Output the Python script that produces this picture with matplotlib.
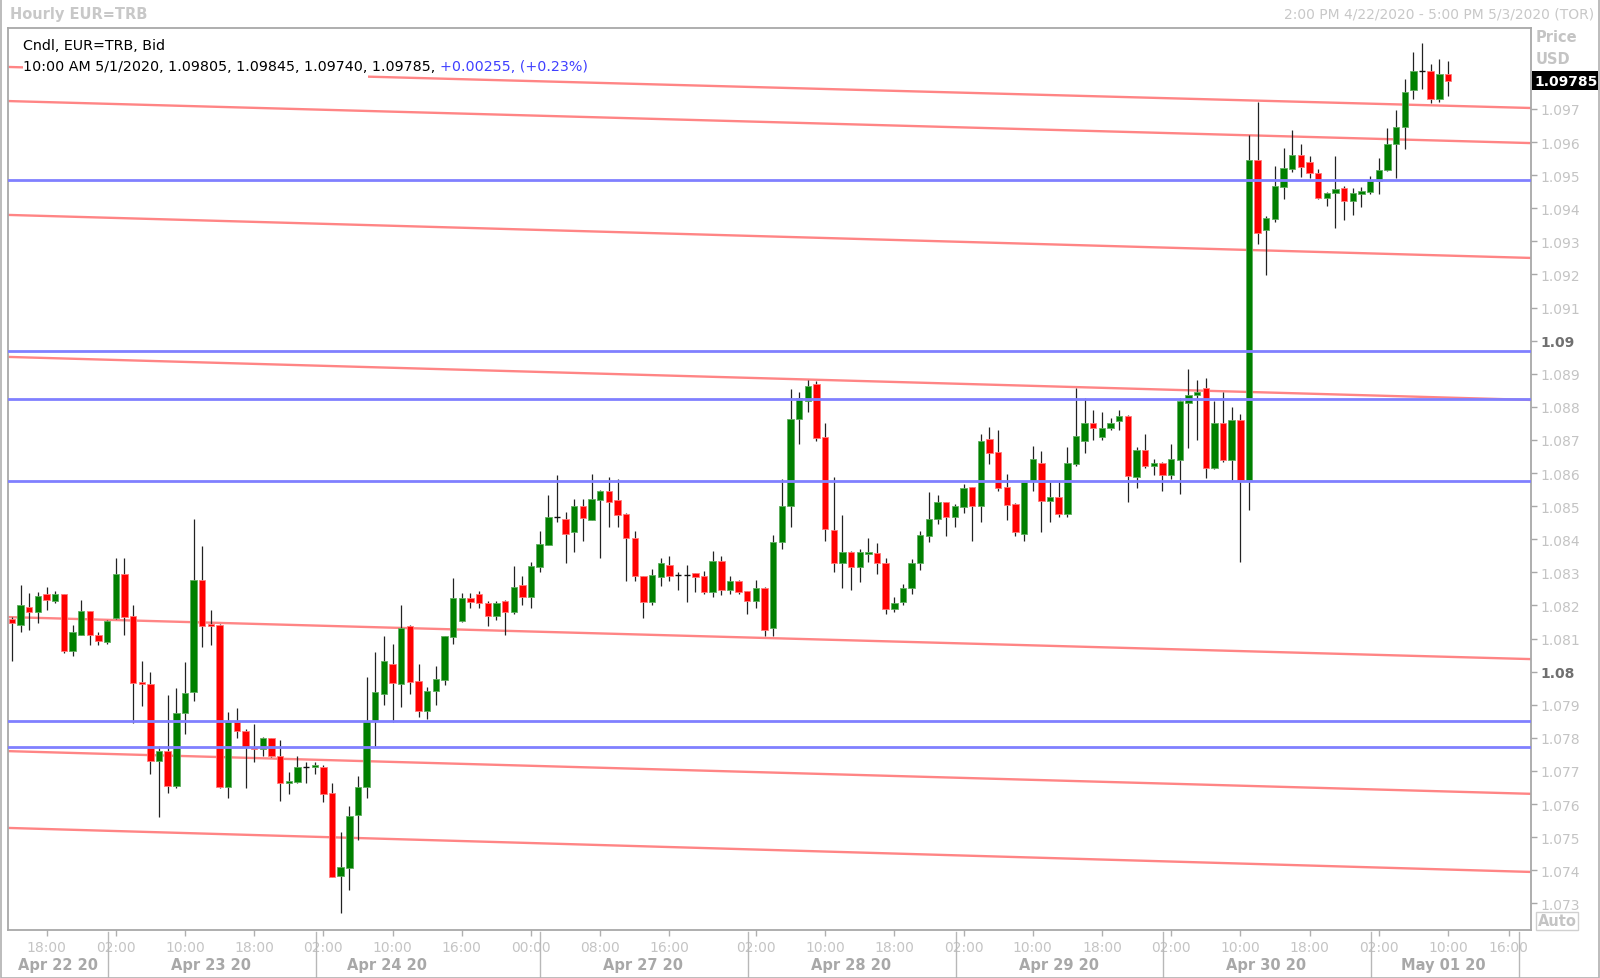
import matplotlib
matplotlib.use("Agg")
import matplotlib.pyplot as plt
from matplotlib.patches import Rectangle
from matplotlib.transforms import blended_transform_factory

# ---------------- data (hourly candles, EUR=TRB, Bid) ----------------
opens = [
    1.08160, 1.08142, 1.08194, 1.08181, 1.08234, 1.08215, 1.08234, 1.08062, 1.08112, 1.08182,
    1.08112, 1.08091, 1.08162, 1.08296, 1.08167, 1.07968, 1.07964, 1.07731, 1.07759, 1.07655,
    1.07874, 1.07940, 1.08276, 1.08144, 1.08142, 1.07651, 1.07849, 1.07822, 1.07772, 1.07767,
    1.07799, 1.07744, 1.07663, 1.07668, 1.07712, 1.07711, 1.07713, 1.07633, 1.07384, 1.07406,
    1.07567, 1.07651, 1.07852, 1.07933, 1.08023, 1.07962, 1.08139, 1.07971, 1.07882, 1.07941,
    1.07976, 1.08106, 1.08152, 1.08222, 1.08234, 1.08208, 1.08167, 1.08213, 1.08179, 1.08263,
    1.08227, 1.08315, 1.08384, 1.08466, 1.08461, 1.08421, 1.08502, 1.08459, 1.08520, 1.08547,
    1.08519, 1.08475, 1.08404, 1.08288, 1.08212, 1.08287, 1.08323, 1.08292, 1.08292, 1.08297,
    1.08288, 1.08240, 1.08333, 1.08247, 1.08275, 1.08243, 1.08215, 1.08254, 1.08131, 1.08391,
    1.08502, 1.08762, 1.08819, 1.08868, 1.08709, 1.08427, 1.08328, 1.08363, 1.08316, 1.08356,
    1.08358, 1.08329, 1.08190, 1.08212, 1.08253, 1.08328, 1.08411, 1.08462, 1.08512, 1.08467,
    1.08499, 1.08557, 1.08502, 1.08704, 1.08663, 1.08557, 1.08507, 1.08416, 1.08577, 1.08631,
    1.08517, 1.08527, 1.08477, 1.08626, 1.08696, 1.08751, 1.08710, 1.08736, 1.08756, 1.08772,
    1.08587, 1.08671, 1.08621, 1.08631, 1.08595, 1.08641, 1.08812, 1.08837, 1.08857, 1.08615,
    1.08751, 1.08640, 1.08760, 1.08580, 1.09546, 1.09335, 1.09368, 1.09464, 1.09519, 1.09561,
    1.09541, 1.09506, 1.09431, 1.09446, 1.09462, 1.09421, 1.09442, 1.09449, 1.09481, 1.09516,
    1.09593, 1.09645, 1.09756, 1.09816, 1.09816, 1.09730, 1.09805,
]
highs = [
    1.08165, 1.08263, 1.08237, 1.08240, 1.08255, 1.08243, 1.08236, 1.08141, 1.08216, 1.08184,
    1.08119, 1.08156, 1.08343, 1.08343, 1.08200, 1.08031, 1.07998, 1.07775, 1.07929, 1.07952,
    1.08029, 1.08460, 1.08379, 1.08187, 1.08144, 1.07877, 1.07890, 1.07827, 1.07842, 1.07802,
    1.07801, 1.07794, 1.07698, 1.07744, 1.07726, 1.07728, 1.07718, 1.07663, 1.07515, 1.07595,
    1.07686, 1.07985, 1.08059, 1.08107, 1.08084, 1.08200, 1.08142, 1.08023, 1.07953, 1.08018,
    1.08109, 1.08283, 1.08237, 1.08237, 1.08243, 1.08213, 1.08213, 1.08217, 1.08318, 1.08290,
    1.08330, 1.08426, 1.08534, 1.08594, 1.08481, 1.08522, 1.08522, 1.08598, 1.08549, 1.08587,
    1.08582, 1.08480, 1.08426, 1.08290, 1.08311, 1.08343, 1.08349, 1.08301, 1.08323, 1.08299,
    1.08303, 1.08364, 1.08349, 1.08288, 1.08278, 1.08245, 1.08278, 1.08257, 1.08413, 1.08582,
    1.08854, 1.08844, 1.08880, 1.08878, 1.08752, 1.08588, 1.08474, 1.08365, 1.08371, 1.08403,
    1.08388, 1.08343, 1.08227, 1.08265, 1.08341, 1.08424, 1.08542, 1.08534, 1.08514, 1.08507,
    1.08568, 1.08559, 1.08719, 1.08739, 1.08729, 1.08597, 1.08509, 1.08574, 1.08683, 1.08668,
    1.08572, 1.08572, 1.08678, 1.08856, 1.08826, 1.08792, 1.08786, 1.08766, 1.08792, 1.08774,
    1.08678, 1.08718, 1.08643, 1.08633, 1.08688, 1.08826, 1.08913, 1.08881, 1.08886, 1.08817,
    1.08844, 1.08800, 1.08780, 1.09620, 1.09722, 1.09376, 1.09527, 1.09582, 1.09638, 1.09593,
    1.09559, 1.09519, 1.09449, 1.09559, 1.09467, 1.09462, 1.09464, 1.09499, 1.09552, 1.09643,
    1.09697, 1.09791, 1.09872, 1.09900, 1.09836, 1.09850, 1.09845,
]
lows = [
    1.08033, 1.08120, 1.08127, 1.08146, 1.08187, 1.08207, 1.08057, 1.08046, 1.08110, 1.08082,
    1.08081, 1.08085, 1.08160, 1.08112, 1.07846, 1.07895, 1.07691, 1.07562, 1.07635, 1.07650,
    1.07811, 1.07912, 1.08076, 1.08082, 1.07648, 1.07618, 1.07799, 1.07648, 1.07726, 1.07746,
    1.07741, 1.07610, 1.07631, 1.07663, 1.07663, 1.07691, 1.07607, 1.07379, 1.07270, 1.07339,
    1.07492, 1.07618, 1.07772, 1.07900, 1.07847, 1.07893, 1.07933, 1.07862, 1.07857, 1.07900,
    1.07961, 1.08084, 1.08150, 1.08191, 1.08191, 1.08137, 1.08157, 1.08112, 1.08174, 1.08200,
    1.08191, 1.08300, 1.08382, 1.08451, 1.08327, 1.08361, 1.08396, 1.08457, 1.08343, 1.08436,
    1.08436, 1.08275, 1.08275, 1.08162, 1.08200, 1.08260, 1.08275, 1.08247, 1.08212, 1.08240,
    1.08235, 1.08227, 1.08232, 1.08235, 1.08235, 1.08173, 1.08192, 1.08109, 1.08109, 1.08371,
    1.08436, 1.08688, 1.08784, 1.08696, 1.08396, 1.08301, 1.08252, 1.08247, 1.08272, 1.08331,
    1.08296, 1.08175, 1.08180, 1.08200, 1.08235, 1.08308, 1.08391, 1.08445, 1.08411, 1.08437,
    1.08479, 1.08396, 1.08452, 1.08626, 1.08545, 1.08459, 1.08411, 1.08396, 1.08545, 1.08421,
    1.08451, 1.08467, 1.08467, 1.08621, 1.08661, 1.08701, 1.08701, 1.08731, 1.08731, 1.08512,
    1.08554, 1.08615, 1.08595, 1.08545, 1.08582, 1.08537, 1.08676, 1.08701, 1.08585, 1.08613,
    1.08635, 1.08580, 1.08330, 1.08490, 1.09292, 1.09199, 1.09360, 1.09428, 1.09511, 1.09496,
    1.09491, 1.09428, 1.09408, 1.09340, 1.09366, 1.09381, 1.09403, 1.09444, 1.09442, 1.09514,
    1.09492, 1.09579, 1.09729, 1.09761, 1.09718, 1.09720, 1.09740,
]
closes = [
    1.08147, 1.08200, 1.08181, 1.08228, 1.08216, 1.08234, 1.08062, 1.08119, 1.08182, 1.08112,
    1.08092, 1.08154, 1.08296, 1.08164, 1.07967, 1.07962, 1.07731, 1.07759, 1.07655, 1.07876,
    1.07937, 1.08276, 1.08137, 1.08137, 1.07651, 1.07849, 1.07821, 1.07772, 1.07767, 1.07799,
    1.07744, 1.07663, 1.07669, 1.07712, 1.07712, 1.07718, 1.07631, 1.07381, 1.07409, 1.07565,
    1.07653, 1.07852, 1.07938, 1.08032, 1.07966, 1.08132, 1.07968, 1.07882, 1.07943, 1.07978,
    1.08107, 1.08222, 1.08222, 1.08212, 1.08207, 1.08167, 1.08208, 1.08181, 1.08257, 1.08227,
    1.08318, 1.08386, 1.08466, 1.08466, 1.08416, 1.08502, 1.08464, 1.08522, 1.08547, 1.08512,
    1.08472, 1.08404, 1.08288, 1.08212, 1.08292, 1.08329, 1.08290, 1.08292, 1.08292, 1.08287,
    1.08240, 1.08333, 1.08247, 1.08275, 1.08242, 1.08215, 1.08254, 1.08126, 1.08393, 1.08502,
    1.08764, 1.08826, 1.08862, 1.08707, 1.08432, 1.08328, 1.08363, 1.08316, 1.08363, 1.08363,
    1.08328, 1.08190, 1.08207, 1.08253, 1.08329, 1.08413, 1.08462, 1.08512, 1.08467, 1.08500,
    1.08554, 1.08502, 1.08698, 1.08661, 1.08555, 1.08505, 1.08421, 1.08572, 1.08643, 1.08517,
    1.08527, 1.08477, 1.08631, 1.08711, 1.08751, 1.08736, 1.08736, 1.08751, 1.08772, 1.08592,
    1.08671, 1.08621, 1.08631, 1.08595, 1.08643, 1.08817, 1.08837, 1.08846, 1.08615, 1.08751,
    1.08641, 1.08760, 1.08580, 1.09546, 1.09326, 1.09371, 1.09466, 1.09521, 1.09561, 1.09526,
    1.09506, 1.09431, 1.09446, 1.09459, 1.09421, 1.09446, 1.09452, 1.09482, 1.09517, 1.09595,
    1.09647, 1.09751, 1.09816, 1.09816, 1.09729, 1.09805, 1.09785,
]

time_tick_pos = [4, 12, 20, 28, 36, 44, 52, 60, 68, 76, 86, 94, 102, 110, 118,
                 126, 134, 142, 150, 158, 166, 173]
time_tick_labels = ["18:00", "02:00", "10:00", "18:00", "02:00", "10:00", "16:00",
                    "00:00", "08:00", "16:00", "02:00", "10:00", "18:00", "02:00",
                    "10:00", "18:00", "02:00", "10:00", "18:00", "02:00", "10:00", "16:00"]
date_label_pos = [5.3, 23.0, 43.4, 73.0, 97.0, 121.0, 145.0, 165.5]
date_labels = ["Apr 22 20", "Apr 23 20", "Apr 24 20", "Apr 27 20",
               "Apr 28 20", "Apr 29 20", "Apr 30 20", "May 01 20"]
day_separators = [11.1, 35.1, 61.0, 85.1, 109.1, 133.1, 157.1, 174.2]

price_ticks = [1.073, 1.074, 1.075, 1.076, 1.077, 1.078, 1.079, 1.080, 1.081, 1.082,
               1.083, 1.084, 1.085, 1.086, 1.087, 1.088, 1.089, 1.090, 1.091, 1.092,
               1.093, 1.094, 1.095, 1.096, 1.097]
price_tick_labels = ["1.073", "1.074", "1.075", "1.076", "1.077", "1.078", "1.079", "1.08",
                     "1.081", "1.082", "1.083", "1.084", "1.085", "1.086", "1.087", "1.088",
                     "1.089", "1.09", "1.091", "1.092", "1.093", "1.094", "1.095", "1.096", "1.097"]

blue_levels = [1.09485, 1.08970, 1.08825, 1.08575, 1.07850, 1.07772]
red_left = [1.09827, 1.09724, 1.09380, 1.08951, 1.08165, 1.07760, 1.07528]
red_right = [1.09703, 1.09597, 1.09250, 1.08821, 1.08038, 1.07631, 1.07395]

last_price = 1.09785
legend_line1 = "Cndl, EUR=TRB, Bid"
legend_line2a = "10:00 AM 5/1/2020, 1.09805, 1.09845, 1.09740, 1.09785, "
legend_line2b = "+0.00255, (+0.23%)"

# ---------------- figure ----------------
W, H = 1600, 979
fig = plt.figure(figsize=(16, 9.79), dpi=100)
fig.patch.set_facecolor("white")

def fx(px):
    return px / W

def fy(py):
    return 1 - py / H

ax_l, ax_r, ax_t, ax_b = 8, 1531, 29, 931
ax = fig.add_axes([fx(ax_l), fy(ax_b), (ax_r - ax_l) / W, (ax_b - ax_t) / H])
XMIN, XMAX = -0.46, 175.6
ax.set_xlim(XMIN, XMAX)
ax.set_ylim(1.072196, 1.099447)
ax.set_facecolor("white")

# red sloping trend lines
for yl, yr in zip(red_left, red_right):
    ax.plot([XMIN, XMAX], [yl, yr], color="#FF8585", lw=1.7, zorder=2,
            solid_capstyle="butt")

# candles
n = len(opens)
xs = list(range(n))
ax.vlines(xs, lows, highs, color="#222222", lw=0.9, zorder=3)
bw = 0.74
for i in range(n):
    o, c = opens[i], closes[i]
    if c > o:
        fc, ec = "#008000", "#5fae5f"
    elif c < o:
        fc, ec = "#FF0000", "#ff7a7a"
    else:
        ax.hlines(o, i - bw / 2, i + bw / 2, color="#111111", lw=1.0, zorder=4)
        continue
    lo = min(o, c)
    h = max(abs(c - o), 0.00003)
    ax.bar(i, h, bottom=lo, width=bw, color=fc, edgecolor=ec, linewidth=0.6, zorder=4)

# blue horizontal levels
for lvl in blue_levels:
    ax.axhline(lvl, color="#8080FF", lw=2.0, zorder=5)

# spines
for s in ax.spines.values():
    s.set_color("#A8A8A8")
    s.set_linewidth(1.3)

# y axis on right
ax.yaxis.tick_right()
ax.set_yticks(price_ticks)
ax.set_yticklabels(price_tick_labels)
ax.tick_params(axis="y", direction="out", length=4, width=1, color="#A8A8A8",
               labelcolor="#C4C4C4", labelsize=10, pad=3)
for lab in ax.get_yticklabels():
    if lab.get_text() in ("1.08", "1.09"):
        lab.set_fontweight("bold")
        lab.set_color("#707070")

# x axis
ax.set_xticks(time_tick_pos)
ax.set_xticklabels(time_tick_labels)
ax.tick_params(axis="x", direction="out", length=4, width=1, color="#B0B0B0",
               labelcolor="#C4C4C4", labelsize=10, pad=3)

trans = blended_transform_factory(ax.transData, fig.transFigure)
for p in day_separators:
    ax.plot([p, p], [fy(933), fy(979)], transform=trans, color="#B8B8B8", lw=1.0,
            clip_on=False)
for p, lab in zip(date_label_pos, date_labels):
    ax.text(p, fy(966), lab, transform=trans, ha="center", va="center",
            fontsize=10.5, fontweight="bold", color="#A8A8A8", clip_on=False)

# legend box (white background) and text
ax.add_patch(Rectangle((fx(23), fy(79)), fx(368) - fx(23), fy(33) - fy(79),
                       transform=fig.transFigure, facecolor="white",
                       edgecolor="none", zorder=6))
fig.text(fx(23), fy(46), legend_line1, fontsize=10.3, color="black",
         ha="left", va="center", zorder=7)
t2 = fig.text(fx(23), fy(67), legend_line2a, fontsize=10.3, color="black",
              ha="left", va="center", zorder=7)
fig.canvas.draw()
bb = t2.get_window_extent()
fig.text(bb.x1 / W, fy(67), legend_line2b, fontsize=10.3, color="#4040FF",
         ha="left", va="center", zorder=7)

# header texts
fig.text(fx(10), fy(15), "Hourly EUR=TRB", fontsize=10.5, fontweight="bold",
         color="#C8C8C8", ha="left", va="center")
fig.text(fx(1594), fy(15), "2:00 PM 4/22/2020 - 5:00 PM 5/3/2020 (TOR)", fontsize=10,
         color="#C8C8C8", ha="right", va="center")
fig.text(fx(1536), fy(38), "Price", fontsize=10.5, fontweight="bold",
         color="#C4C4C4", ha="left", va="center")
fig.text(fx(1536), fy(59), "USD", fontsize=10.5, fontweight="bold",
         color="#C4C4C4", ha="left", va="center")

# last price tag
ypx = ax.transData.transform((0, last_price))[1]
fig.patches.append(Rectangle((fx(1532), (ypx - 9.5) / H), fx(1598) - fx(1532), 19 / H,
                             transform=fig.transFigure, facecolor="black",
                             edgecolor="none", zorder=8))
fig.text(fx(1534), ypx / H, f"{last_price:.5f}", fontsize=10, fontweight="bold",
         color="white", ha="left", va="center", zorder=9)

# Auto button
fig.text(fx(1557), fy(922), "Auto", fontsize=10.5, fontweight="bold", color="#C4C4C4",
         ha="center", va="center",
         bbox=dict(boxstyle="square,pad=0.12", facecolor="white", edgecolor="#D0D0D0",
                   linewidth=1))

# outer border
fig.patches.append(Rectangle((0.0005, 0.0005), 0.999, 0.999, transform=fig.transFigure,
                             facecolor="none", edgecolor="#B0B0B0", linewidth=1.2))

fig.savefig("out.png", dpi=100, facecolor="white")
